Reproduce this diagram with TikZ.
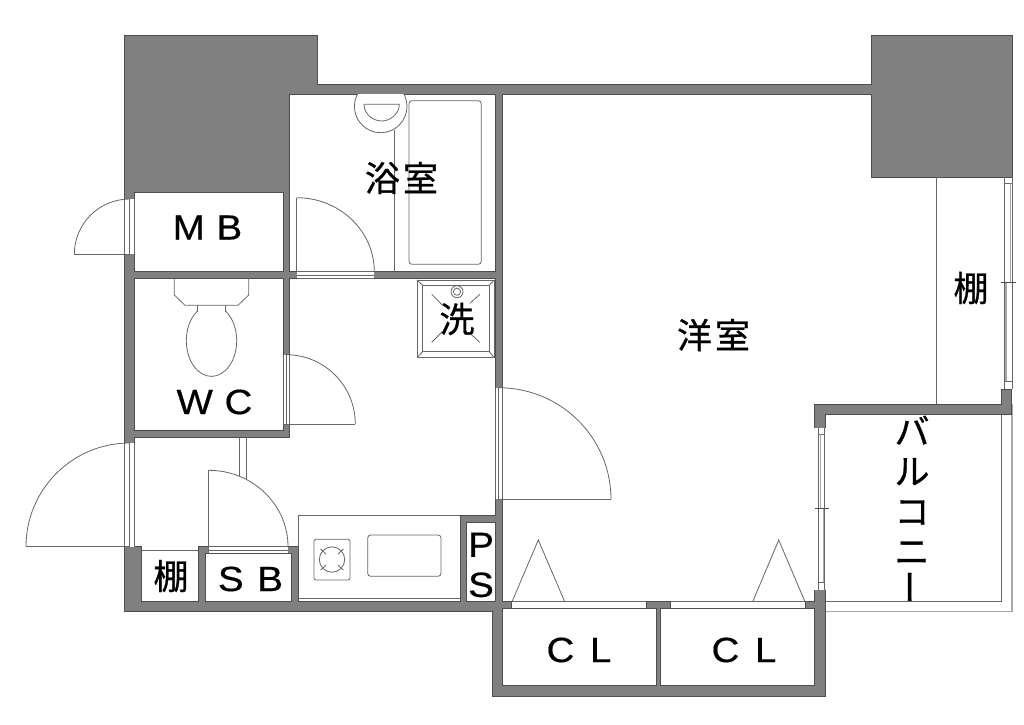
\documentclass[tikz,border=0pt]{standalone}
\usepackage{fontspec}
\setmainfont[FakeStretch=1.1,FakeBold=0.5]{Liberation Sans}
\newfontfamily\jp[FakeBold=0.8]{Noto Sans CJK JP}
\definecolor{wallc}{HTML}{808080}
\definecolor{edgec}{HTML}{4D4D4D}
\definecolor{linec}{HTML}{666666}
\definecolor{palec}{HTML}{A8A8A8}
\newcommand\doorarc[4]{\draw[fine] (#1+#3,#2) .. controls ({#1+#3},{#2+0.5523*(#4)}) and ({#1+0.5523*(#3)},{#2+#4}) .. (#1,#2+#4);}
\tikzset{
  wall/.style={fill=wallc,draw=edgec,line width=0.9pt,line join=miter},
  room/.style={fill=white,draw=edgec,line width=0.9pt,line join=miter},
  gap/.style={fill=white,draw=none},
  fine/.style={draw=linec,line width=0.8pt},
  pale/.style={draw=palec,line width=1.4pt},
  latin/.style={font=\fontsize{35}{35}\selectfont,text=black,inner sep=0pt,align=center},
  kana/.style={font=\jp\fontsize{35}{35}\selectfont,text=black,inner sep=0pt,align=center},
}
\begin{document}
\begin{tikzpicture}[x=1pt,y=-1pt]
\useasboundingbox (0,0) rectangle (1024,724);
% balcony rail
\draw[pale] (825,611.7) -- (1012,611.7) -- (1012,404);
\draw[fine] (825,601.7) -- (1001.7,601.7) -- (1001.7,414);
% wall silhouette
\draw[wall] (124.3,35) -- (317.5,35) -- (317.5,84) -- (871,84) -- (871,35) -- (1012,35) -- (1012,177) -- (871,177) -- (871,94) -- (502.5,94) -- (502.5,601.7) -- (511.7,601.7) -- (511.7,608.5) -- (646.3,608.5) -- (646.3,601.7) -- (670.7,601.7) -- (670.7,608.5) -- (805.3,608.5) -- (805.3,601.7) -- (814.7,601.7) -- (814.7,404) -- (1001.7,404) -- (1001.7,389) -- (1011.7,389) -- (1011.7,414) -- (825,414) -- (825,696) -- (492.5,696) -- (492.5,611.7) -- (124.3,611.7) -- cycle;
% rooms
\draw[room] (134.7,192.7) rectangle (283,271.3);
\draw[room] (134.7,278.3) rectangle (283,430.3);
\draw[room] (289.3,94) rectangle (495.5,271.7);
\draw[room] (289.3,278.3) -- (495.5,278.3) -- (495.5,515.7) -- (460,515.7) -- (460,601.3) -- (298.3,601.3) -- (298.3,546.7) -- (198.3,546.7) -- (198.3,601.3) -- (141.7,601.3) -- (141.7,546.7) -- (134.7,546.7) -- (134.7,437.3) -- (289.3,437.3) -- cycle;
\draw[room] (205.7,553.7) rectangle (291.3,601.3);
\draw[room] (466.7,522.7) rectangle (495.7,601.3);
\draw[room] (502.7,608.5) rectangle (656,685.8);
\draw[room] (660.7,608.5) rectangle (814.7,685.8);
% shelf top and counter
\draw[fine] (141.7,550) -- (198.3,550);
\draw[fine] (298.3,546.7) -- (298.3,515.7) -- (460,515.7);
\draw[fine] (298.3,598.3) -- (460,598.3);
% door openings
\fill[gap] (123.6,199) rectangle (135.4,254.3);
\draw[fine] (124.3,199) -- (124.3,254.3) (129.7,199) -- (129.7,254.3) (134.7,199) -- (134.7,254.3);
\draw[fine] (74.3,254.3) -- (129.7,254.3);
\doorarc{129.7}{254.3}{-55.4}{-55.3}
\fill[gap] (123.6,443) rectangle (135.4,546.7);
\draw[fine] (124.3,443) -- (124.3,546.7) (129.7,443) -- (129.7,546.7) (134.7,443) -- (134.7,546.7);
\draw[fine] (26,546.7) -- (129.7,546.7);
\doorarc{129.7}{546.7}{-103.7}{-103.7}
\fill[gap] (282.3,354.7) rectangle (290,424);
\draw[fine] (283,354.7) -- (283,424) (286.2,354.7) -- (286.2,424) (289.3,354.7) -- (289.3,424);
\draw[fine] (283,424) -- (355.3,424);
\doorarc{286.2}{424}{69.1}{-69.3}
\fill[gap] (296.7,271) rectangle (374.3,279);
\draw[fine] (296.7,271.7) -- (374.3,271.7) (296.7,275) -- (374.3,275) (296.7,278.3) -- (374.3,278.3);
\draw[fine] (296.7,271.7) -- (296.7,197.7);
\doorarc{296.7}{271.7}{77.6}{-74}
\fill[gap] (208.7,546) rectangle (288,553);
\draw[fine] (208.7,546.7) -- (288,546.7) (208.7,550.2) -- (288,550.2);
\draw[fine] (208.7,553.7) -- (208.7,470.3);
\doorarc{208.7}{546.7}{79.3}{-76.4}
\draw[fine] (239.7,437.3) -- (239.7,476.4) (246.7,437.3) -- (246.7,479.6);
\fill[gap] (495,387.7) rectangle (503.2,499.3);
\draw[fine] (495.7,387.7) -- (495.7,499.3) (498.6,387.7) -- (498.6,499.3) (502.3,387.7) -- (502.3,499.3);
\draw[fine] (498.6,499.3) -- (611,499.3);
\doorarc{498.6}{499.3}{112.4}{-111.6}
% closet door lines
\draw[fine] (511.7,601.7) -- (646.3,601.7) (670.7,601.7) -- (805.3,601.7);
\draw[fine] (512,601.7) -- (538.3,540) -- (564.7,601.7);
\draw[fine] (752.7,601.7) -- (778.7,540) -- (805,601.7);
% balcony sliding door
\fill[gap] (814,428) rectangle (825.6,590);
\draw[fine] (818.2,428) -- (818.2,590) (824.5,428) -- (824.5,590) (818.2,434.3) -- (824.5,434.3) (818.2,582.3) -- (824.5,582.3);
\draw[draw=palec,line width=1pt] (820,434.3) -- (820,508.7) (823,508.7) -- (823,582.3);
\draw[draw=edgec,line width=0.8pt] (815,508.7) -- (829,508.7);
% east window
\draw[fine] (1004.7,177) -- (1004.7,389) (1012,177) -- (1012,389) (1004.7,183) -- (1012,183) (1004.7,381) -- (1012,381);
\draw[pale] (1010.6,183) -- (1010.6,282.7) (1006,282.7) -- (1006,381);
\draw[draw=edgec,line width=0.8pt] (1001.3,282.7) -- (1016,282.7);
\draw[fine] (936.5,177) -- (936.5,404);
% bath fixtures
\draw[fine,fill=white,rounded corners=3pt] (409,100.7) rectangle (481.3,264.3);
\draw[fine] (394.7,130) -- (394.7,271.7);
\begin{scope}
\clip (340,94.5) rectangle (420,140);
\draw[fine,fill=white] (380.7,106.4) circle[radius=26.3];
\end{scope}
\draw[fine] (364,104.3) -- (399.3,104.3) .. controls (399.3,114) and (390,121) .. (381.7,121) .. controls (373,121) and (364,114) .. cycle;
% toilet
\draw[fine] (211.5,340.7) ellipse[x radius=25.2,y radius=35.7];
\fill[gap] (198,304) rectangle (224.6,313);
\draw[fine] (174.3,278.3) -- (174.3,295) -- (185,305.3) -- (238,305.3) -- (248.7,295) -- (248.7,278.3);
\draw[fine] (197.3,305.3) -- (197.3,311.6) (225.3,305.3) -- (225.3,311.6);
% washer pan
\draw[fine] (417,280) rectangle (494.3,357.7);
\draw[fine] (422.7,285.3) rectangle (489.3,351.7);
\draw[fine] (417,280) -- (422.7,285.3) (494.3,280) -- (489.3,285.3) (417,357.7) -- (422.7,351.7) (494.3,357.7) -- (489.3,351.7);
\draw[fine] (457,291.7) circle[radius=6] (457,291.7) circle[radius=3.6];
\draw[fine] (431.7,294.3) -- (442.3,305) (479.7,294.3) -- (470,303.3) (431.7,342.3) -- (442.3,331.7) (479.7,342.3) -- (470,333.3);
% stove and sink
\draw[fine,rounded corners=2pt] (314,539.3) rectangle (350,580);
\draw[fine] (332,559.5) circle[radius=12.7];
\draw[fine] (320.7,549) -- (326,554) (343.3,549) -- (338,554) (320.7,570) -- (326,565) (343.3,570) -- (338,565);
\draw[fine,rounded corners=3pt] (367.7,535) rectangle (441,576.3);
% labels
\node[kana] (bath) at (401.5,178) {浴\hspace{3pt}室};
\node[kana] (western) at (713.5,335) {洋\hspace{3pt}室};
\node[kana] (wash) at (457,319) {洗};
\node[kana] (shelfe) at (971,288) {棚};
\node[kana] (shelfw) at (171,576) {棚};
\node[kana,font=\jp\fontsize{35}{40}\selectfont] (balcony) at (912,510) {バ\\ル\\コ\\ニ\\\hspace*{7pt}\rotatebox{90}{ー}};
\node[latin] (mb) at (207.5,227.5) {M\hspace{1pt} B};
\node[latin] (wc) at (214.5,402) {W\hspace{1pt} C};
\node[latin] (sb) at (250.5,579) {S\hspace{3pt} B};
\node[latin] (cl1) at (579,650) {C\hspace{5pt} L};
\node[latin] (cl2) at (744,650) {C\hspace{5pt} L};
\node[latin,font=\fontsize{35}{40}\selectfont] (ps) at (481,565) {P\\S};
\end{tikzpicture}
\end{document}
